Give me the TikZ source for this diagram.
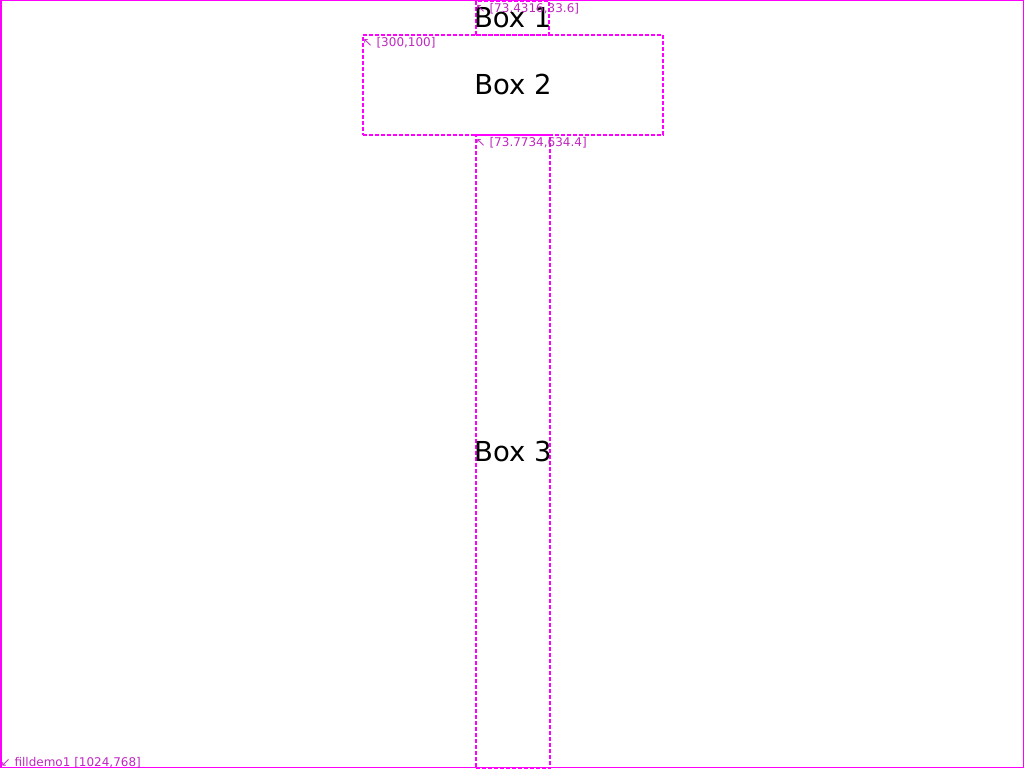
\documentclass[tikz,border=0pt]{standalone}
\usepackage{fontspec}
\setmainfont{DejaVu Sans}
\usetikzlibrary{positioning}
\definecolor{guia}{RGB}{255,0,255}
\definecolor{etiq}{RGB}{190,40,190}
\begin{document}
\begin{tikzpicture}[x=1pt,y=-1pt,
    caja/.style={draw=guia, line width=2pt, dash pattern=on 4pt off 2pt,
      inner sep=0pt, anchor=north west},
    texto/.style={font=\fontsize{27.5}{32}\selectfont, inner sep=0pt},
    marca/.style={text=etiq, inner xsep=0.5pt, inner ysep=3.5pt, font=\fontsize{12}{14}\selectfont}]
  % Marco del lienzo
  \useasboundingbox (0,0) rectangle (1024,768);
  \draw[guia, line width=1.5pt] (0.75,0.75) rectangle (1023.25,767.25);

  % Cajas
  \node[caja, minimum width=73.43pt, minimum height=33.6pt] (box1) at (475,0) {};
  \node[caja, minimum width=300pt, minimum height=100pt] (box2) at (362,33.6) {};
  \node[caja, minimum width=73.77pt, minimum height=634.4pt] (box3) at (475,133.6) {};

  % Textos de las cajas
  \node[texto] (n1) at (box1.center) {Box 1};
  \node[texto] (n2) at (box2.center) {Box 2};
  \node[texto] (n3) at (box3.center) {Box 3};

  % Etiquetas de tamaño
  \node[marca, anchor=north west] (t1) at (box1.north west) {↖ [73.4316,33.6]};
  \node[marca, anchor=north west] (t2) at (box2.north west) {↖ [300,100]};
  \node[marca, anchor=north west] (t3) at (box3.north west) {↖ [73.7734,634.4]};
  \node[marca, anchor=south west, inner ysep=0pt] (t4) at (0,768) {↙ filldemo1 [1024,768]};
\end{tikzpicture}
\end{document}
